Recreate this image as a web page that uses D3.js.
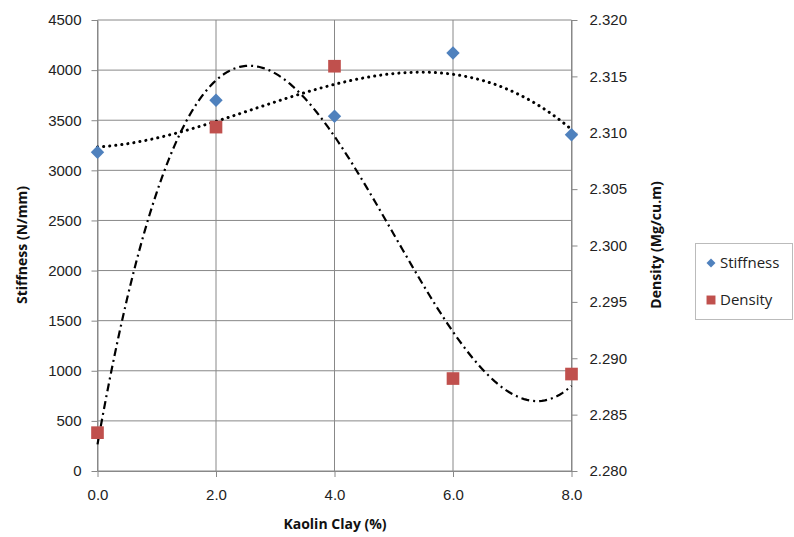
<!DOCTYPE html>
<html>
<head>
<meta charset="utf-8">
<script src="https://cdn.jsdelivr.net/npm/d3@7"></script>
<style>
  body { margin: 0; background: #fff; }
  svg { display: block; font-family: "Open Sans", "Noto Sans", sans-serif; }
</style>
</head>
<body>
<svg id="chart" width="794" height="537"></svg>
<script>
// data
const clay = [0, 2, 4, 6, 8]
const stiffness = [3180, 3700, 3540, 4170, 3355]
const density = [2.2834, 2.3105, 2.3159, 2.2882, 2.2886]
const xTicks = [0, 2, 4, 6, 8]
const leftTicks = d3.range(0, 4501, 500)
const rightTicks = [2.280, 2.285, 2.290, 2.295, 2.300, 2.305, 2.310, 2.315, 2.320]

const blue = "#4f81bd"
const red = "#c0504d"
const grid = "#888"

// least squares polynomial, same thing a spreadsheet trendline does
const polyfit = (xs, ys, order) => {
  const n = order + 1
  const A = Array.from({length: n}, () => new Array(n + 1).fill(0))
  for (let r = 0; r < n; r++) {
    for (let c = 0; c < n; c++) A[r][c] = d3.sum(xs, x => Math.pow(x, r + c))
    A[r][n] = d3.sum(xs, (x, i) => ys[i] * Math.pow(x, r))
  }
  for (let i = 0; i < n; i++) {
    let p = i
    for (let k = i + 1; k < n; k++) if (Math.abs(A[k][i]) > Math.abs(A[p][i])) p = k
    ;[A[i], A[p]] = [A[p], A[i]]
    for (let k = i + 1; k < n; k++) {
      const f = A[k][i] / A[i][i]
      for (let j = i; j <= n; j++) A[k][j] -= f * A[i][j]
    }
  }
  const coef = new Array(n).fill(0)
  for (let i = n - 1; i >= 0; i--) {
    let s = A[i][n]
    for (let j = i + 1; j < n; j++) s -= A[i][j] * coef[j]
    coef[i] = s / A[i][i]
  }
  return x => coef.reduce((acc, c, i) => acc + c * Math.pow(x, i), 0)
}

const svg = d3.select("#chart")
const plotLeft = 97.5, plotRight = 571.5, plotTop = 20, plotBottom = 471

const x = d3.scaleLinear().domain([0, 8]).range([plotLeft, plotRight])
const yL = d3.scaleLinear().domain([0, 4500]).range([plotBottom, plotTop])
const yR = d3.scaleLinear().domain([2.280, 2.320]).range([plotBottom, plotTop])

// gridlines
svg.append("g")
  .selectAll("line")
  .data(leftTicks)
  .join("line")
  .attr("x1", plotLeft).attr("x2", plotRight)
  .attr("y1", d => yL(d)).attr("y2", d => yL(d))
  .attr("stroke", grid).attr("stroke-width", 1)

svg.append("g")
  .selectAll("line")
  .data(xTicks)
  .join("line")
  .attr("x1", d => x(d)).attr("x2", d => x(d))
  .attr("y1", plotTop).attr("y2", plotBottom)
  .attr("stroke", grid).attr("stroke-width", 1)

// axes
const styleAxis = g => {
  g.select(".domain").attr("stroke", grid)
  g.selectAll(".tick line").attr("stroke", grid)
  g.selectAll(".tick text").attr("fill", "#222").attr("font-size", 15)
}

svg.append("g")
  .attr("transform", `translate(${plotLeft},0)`)
  .call(d3.axisLeft(yL).tickValues(leftTicks).tickFormat(d3.format("d")).tickSize(6).tickPadding(10).tickSizeOuter(0))
  .call(styleAxis)

svg.append("g")
  .attr("transform", `translate(${plotRight},0)`)
  .call(d3.axisRight(yR).tickValues(rightTicks).tickFormat(d3.format(".3f")).tickSize(6).tickPadding(12).tickSizeOuter(0))
  .call(styleAxis)

svg.append("g")
  .attr("transform", `translate(0,${plotBottom})`)
  .call(d3.axisBottom(x).tickValues(xTicks).tickFormat(d3.format(".1f")).tickSize(6).tickPadding(12).tickSizeOuter(0))
  .call(styleAxis)

// trendlines
const samples = d3.range(0, 8.0001, 0.05)
const fitS = polyfit(clay, stiffness, 3)
const fitD = polyfit(clay, density, 3)

svg.append("path")
  .datum(samples)
  .attr("fill", "none")
  .attr("stroke", "#000")
  .attr("stroke-width", 3)
  .attr("stroke-linecap", "round")
  .attr("stroke-dasharray", "0.1 6")
  .attr("d", d3.line().x(d => x(d)).y(d => yL(fitS(d))))

svg.append("path")
  .datum(samples)
  .attr("fill", "none")
  .attr("stroke", "#000")
  .attr("stroke-width", 2.2)
  .attr("stroke-dasharray", "8 4 2 4")
  .attr("d", d3.line().x(d => x(d)).y(d => yR(fitD(d))))

// markers
svg.append("g")
  .selectAll("path")
  .data(clay)
  .join("path")
  .attr("d", d3.symbol().type(d3.symbolSquare).size(90))
  .attr("transform", (d, i) => `translate(${x(d)},${yL(stiffness[i])}) rotate(45)`)
  .attr("fill", blue)

svg.append("g")
  .selectAll("path")
  .data(clay)
  .join("path")
  .attr("d", d3.symbol().type(d3.symbolSquare).size(160))
  .attr("transform", (d, i) => `translate(${x(d)},${yR(density[i])})`)
  .attr("fill", red)

// axis titles
svg.append("text")
  .attr("transform", "translate(27,245) rotate(-90)")
  .attr("text-anchor", "middle")
  .attr("font-size", 14).attr("font-weight", "bold").attr("fill", "#111")
  .text("Stiffness (N/mm)")

svg.append("text")
  .attr("transform", "translate(661,245) rotate(-90)")
  .attr("text-anchor", "middle")
  .attr("font-size", 14).attr("font-weight", "bold").attr("fill", "#111")
  .text("Density (Mg/cu.m)")

svg.append("text")
  .attr("x", 335).attr("y", 529)
  .attr("text-anchor", "middle")
  .attr("font-size", 14).attr("font-weight", "bold").attr("fill", "#111")
  .text("Kaolin Clay (%)")

// legend
const legend = svg.append("g")
legend.append("rect")
  .attr("x", 695.5).attr("y", 243.5).attr("width", 97).attr("height", 76)
  .attr("fill", "#fff").attr("stroke", "#bbb")

const legendItems = [
  {name: "Stiffness", color: blue, diamond: true},
  {name: "Density", color: red, diamond: false}
]
legend.selectAll("g")
  .data(legendItems)
  .join("g")
  .attr("transform", (d, i) => `translate(711,${263 + i * 37})`)
  .each(function (d) {
    const g = d3.select(this)
    g.append("path")
      .attr("d", d3.symbol().type(d3.symbolSquare).size(d.diamond ? 40 : 80)())
      .attr("transform", d.diamond ? "rotate(45)" : null)
      .attr("fill", d.color)
    g.append("text")
      .attr("x", 9).attr("y", 5)
      .attr("font-size", 15).attr("fill", "#222")
      .text(d.name)
  })
</script>
</body>
</html>
